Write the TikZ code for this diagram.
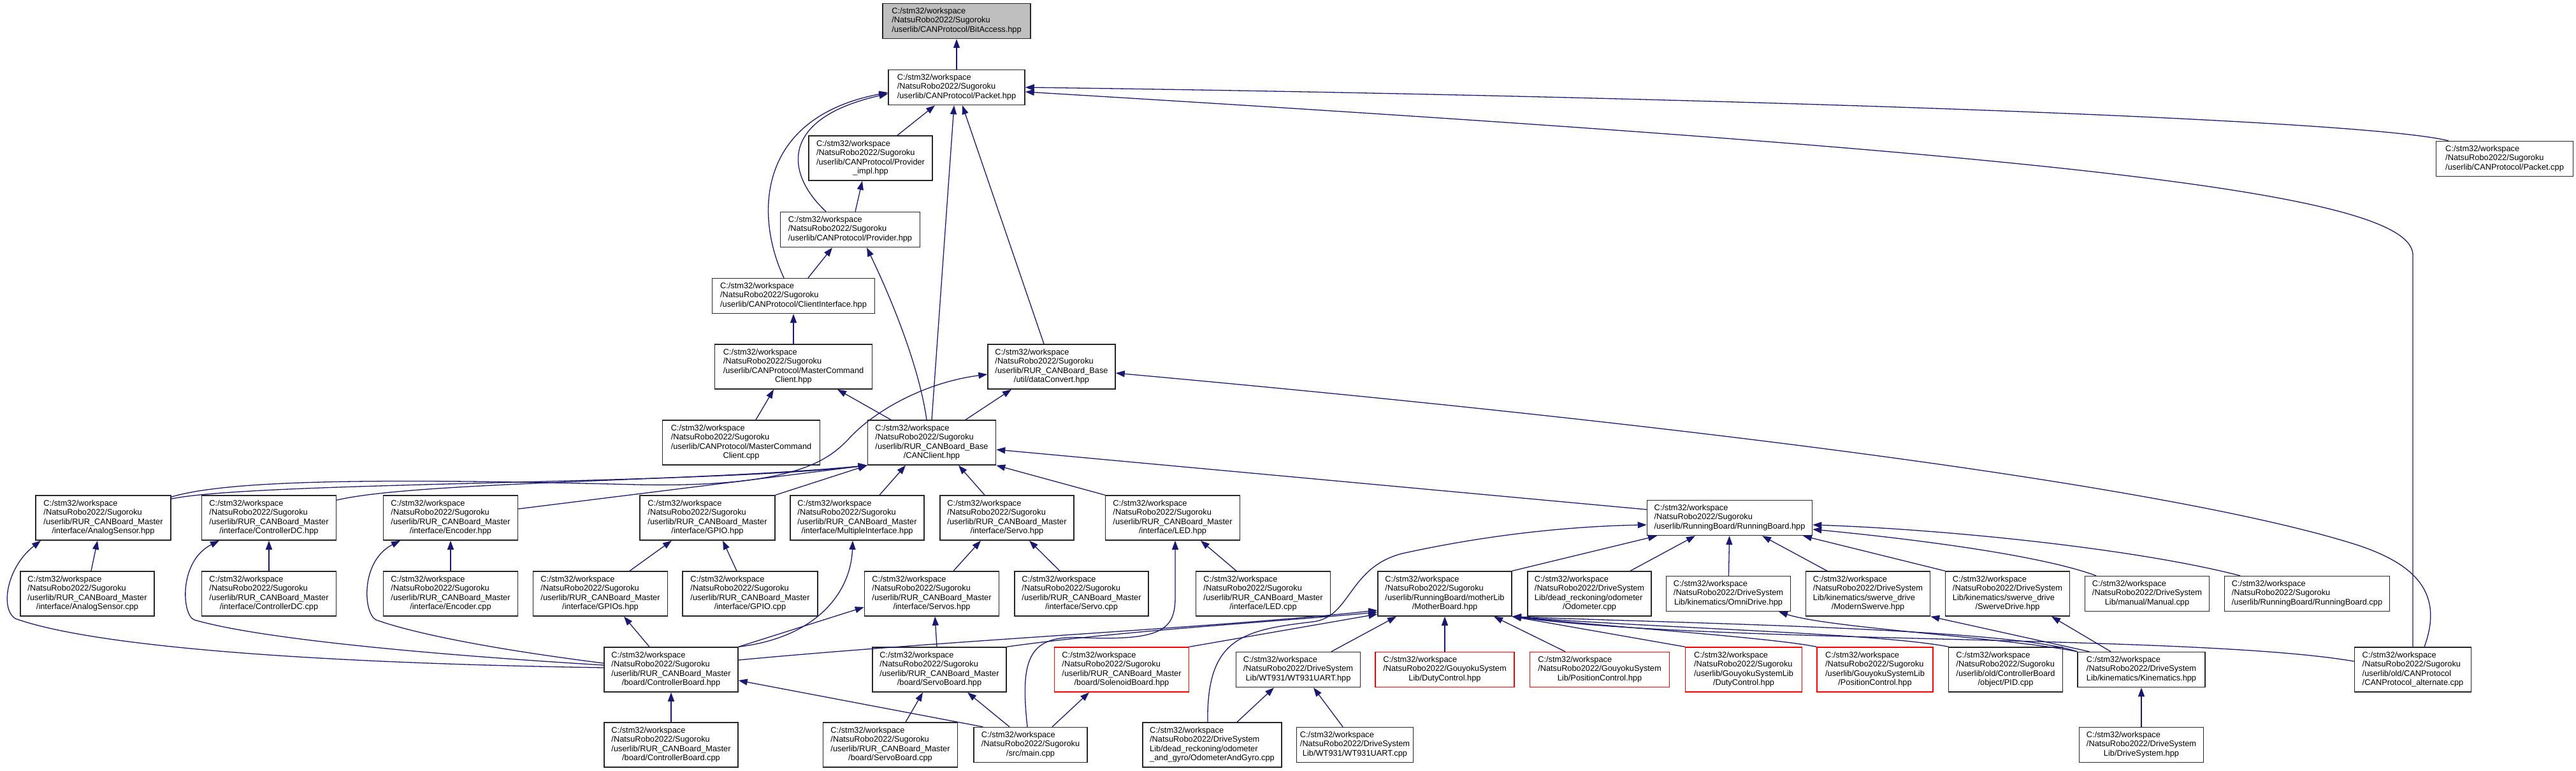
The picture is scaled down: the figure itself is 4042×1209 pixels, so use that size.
\documentclass[tikz,border=0pt]{standalone}
\usepackage{fontspec}
\setmainfont{Liberation Sans}
\usetikzlibrary{arrows.meta}
\definecolor{edgeblue}{HTML}{191970}
% left lines, last line centred
\newcommand{\flines}[2]{\begin{tabular}{@{}l@{}}#1\\\multicolumn{1}{@{}c@{}}{#2}\end{tabular}}
\newcommand{\wsp}{C:/stm32/workspace}
\newcommand{\sugo}{/NatsuRobo2022/Sugoroku}
\newcommand{\drvs}{/NatsuRobo2022/DriveSystem}
\newcommand{\gysl}{/NatsuRobo2022/GouyokuSystem}
\newcommand{\rurm}{/userlib/RUR\_CANBoard\_Master}
\newcommand{\rurb}{/userlib/RUR\_CANBoard\_Base}
\newcommand{\canp}{/userlib/CANProtocol}
\begin{document}
\begin{tikzpicture}[x=1pt, y=-1pt,
  fnode/.style={draw=black!85, line width=1.5pt, fill=white, inner sep=0pt,
                font=\fontsize{12.8}{14.6}\selectfont},
  rnode/.style={fnode, draw=red},
  gnode/.style={fnode, fill=black!25},
  h3/.style={minimum height=55},
  h4/.style={minimum height=70},
  dep/.style={draw=edgeblue, line width=1.3pt, -{Triangle[length=14pt,width=10pt]}},
]
  \fill[white] (0,0) rectangle (4042,1209);
  \useasboundingbox (0,0) rectangle (4042,1209);
  % CANProtocol
  \node[gnode, h3, minimum width=232] (bit) at (1501,33) {\flines{\wsp\\\sugo}{\canp/BitAccess.hpp}};
  \node[fnode, h3, minimum width=214] (pkt) at (1501,137) {\flines{\wsp\\\sugo}{\canp/Packet.hpp}};
  \node[fnode, h4, minimum width=194] (pimpl) at (1366,248) {\flines{\wsp\\\sugo\\\canp/Provider}{\_impl.hpp}};
  \node[fnode, h3, minimum width=219] (prov) at (1334,360) {\flines{\wsp\\\sugo}{\canp/Provider.hpp}};
  \node[fnode, h3, minimum width=255] (cli) at (1245,464) {\flines{\wsp\\\sugo}{\canp/ClientInterface.hpp}};
  \node[fnode, h4, minimum width=247] (mcch) at (1245,575) {\flines{\wsp\\\sugo\\\canp/MasterCommand}{Client.hpp}};
  \node[fnode, h4, minimum width=200] (dconv) at (1650,575) {\flines{\wsp\\\sugo\\\rurb}{/util/dataConvert.hpp}};
  \node[fnode, h4, minimum width=247] (mccc) at (1163,694) {\flines{\wsp\\\sugo\\\canp/MasterCommand}{Client.cpp}};
  \node[fnode, h4, minimum width=201] (canc) at (1462,694) {\flines{\wsp\\\sugo\\\rurb}{/CANClient.hpp}};
  \node[fnode, h3, minimum width=215] (pcpp) at (3930,249) {\flines{\wsp\\\sugo}{\canp/Packet.cpp}};
  % interface headers
  \node[fnode, h4, minimum width=212] (asH) at (162,812) {\flines{\wsp\\\sugo\\\rurm}{/interface/AnalogSensor.hpp}};
  \node[fnode, h4, minimum width=211] (cdcH) at (422,812) {\flines{\wsp\\\sugo\\\rurm}{/interface/ControllerDC.hpp}};
  \node[fnode, h4, minimum width=211] (encH) at (707,812) {\flines{\wsp\\\sugo\\\rurm}{/interface/Encoder.hpp}};
  \node[fnode, h4, minimum width=212] (gpioH) at (1110,812) {\flines{\wsp\\\sugo\\\rurm}{/interface/GPIO.hpp}};
  \node[fnode, h4, minimum width=210] (multi) at (1345,812) {\flines{\wsp\\\sugo\\\rurm}{/interface/MultipleInterface.hpp}};
  \node[fnode, h4, minimum width=210] (servoH) at (1580,812) {\flines{\wsp\\\sugo\\\rurm}{/interface/Servo.hpp}};
  \node[fnode, h4, minimum width=211] (ledH) at (1840,812) {\flines{\wsp\\\sugo\\\rurm}{/interface/LED.hpp}};
  \node[fnode, h3, minimum width=259] (rbH) at (2714,812) {\flines{\wsp\\\sugo}{/userlib/RunningBoard/RunningBoard.hpp}};
  % third row
  \node[fnode, h4, minimum width=210] (asC) at (137,931) {\flines{\wsp\\\sugo\\\rurm}{/interface/AnalogSensor.cpp}};
  \node[fnode, h4, minimum width=211] (cdcC) at (422,931) {\flines{\wsp\\\sugo\\\rurm}{/interface/ControllerDC.cpp}};
  \node[fnode, h4, minimum width=211] (encC) at (707,931) {\flines{\wsp\\\sugo\\\rurm}{/interface/Encoder.cpp}};
  \node[fnode, h4, minimum width=211] (gpios) at (942,931) {\flines{\wsp\\\sugo\\\rurm}{/interface/GPIOs.hpp}};
  \node[fnode, h4, minimum width=212] (gpioC) at (1177,931) {\flines{\wsp\\\sugo\\\rurm}{/interface/GPIO.cpp}};
  \node[fnode, h4, minimum width=211] (servos) at (1462,931) {\flines{\wsp\\\sugo\\\rurm}{/interface/Servos.hpp}};
  \node[fnode, h4, minimum width=210] (servoC) at (1697,931) {\flines{\wsp\\\sugo\\\rurm}{/interface/Servo.cpp}};
  \node[fnode, h4, minimum width=211] (ledC) at (1982,931) {\flines{\wsp\\\sugo\\\rurm}{/interface/LED.cpp}};
  \node[fnode, h4, minimum width=210] (mother) at (2267,931) {\flines{\wsp\\\sugo\\/userlib/RunningBoard/motherLib}{/MotherBoard.hpp}};
  \node[fnode, h4, minimum width=194] (odo) at (2494,931) {\flines{\wsp\\\drvs\\Lib/dead\_reckoning/odometer}{/Odometer.cpp}};
  \node[fnode, h3, minimum width=195] (omni) at (2712,931) {\flines{\wsp\\\drvs}{Lib/kinematics/OmniDrive.hpp}};
  \node[fnode, h4, minimum width=195] (modsw) at (2931,931) {\flines{\wsp\\\drvs\\Lib/kinematics/swerve\_drive}{/ModernSwerve.hpp}};
  \node[fnode, h4, minimum width=195] (swerve) at (3150,931) {\flines{\wsp\\\drvs\\Lib/kinematics/swerve\_drive}{/SwerveDrive.hpp}};
  \node[fnode, h3, minimum width=195] (manual) at (3369,931) {\flines{\wsp\\\drvs}{Lib/manual/Manual.cpp}};
  \node[fnode, h3, minimum width=259] (rbC) at (3620,931) {\flines{\wsp\\\sugo}{/userlib/RunningBoard/RunningBoard.cpp}};
  % boards and controls
  \node[fnode, h4, minimum width=210] (cbH) at (1053,1050) {\flines{\wsp\\\sugo\\\rurm}{/board/ControllerBoard.hpp}};
  \node[fnode, h4, minimum width=210] (sbH) at (1474,1050) {\flines{\wsp\\\sugo\\\rurm}{/board/ServoBoard.hpp}};
  \node[rnode, h4, minimum width=211] (solH) at (1760,1050) {\flines{\wsp\\\sugo\\\rurm}{/board/SolenoidBoard.hpp}};
  \node[fnode, h3, minimum width=195] (wtH) at (2037,1050) {\flines{\wsp\\\drvs}{Lib/WT931/WT931UART.hpp}};
  \node[rnode, h3, minimum width=218] (gdc) at (2267,1050) {\flines{\wsp\\\gysl}{Lib/DutyControl.hpp}};
  \node[rnode, h3, minimum width=219] (gpc) at (2510,1050) {\flines{\wsp\\\gysl}{Lib/PositionControl.hpp}};
  \node[rnode, h4, minimum width=183] (sdc) at (2736,1050) {\flines{\wsp\\\sugo\\/userlib/GouyokuSystemLib}{/DutyControl.hpp}};
  \node[rnode, h4, minimum width=182] (spc) at (2942,1050) {\flines{\wsp\\\sugo\\/userlib/GouyokuSystemLib}{/PositionControl.hpp}};
  \node[fnode, h4, minimum width=179] (pid) at (3147,1050) {\flines{\wsp\\\sugo\\/userlib/old/ControllerBoard}{/object/PID.cpp}};
  \node[fnode, h3, minimum width=200] (kin) at (3360,1050) {\flines{\wsp\\\drvs}{Lib/kinematics/Kinematics.hpp}};
  \node[fnode, h4, minimum width=183] (alt) at (3786,1050) {\flines{\wsp\\\sugo\\/userlib/old/CANProtocol}{/CANProtocol\_alternate.cpp}};
  % bottom row
  \node[fnode, h4, minimum width=210] (cbC) at (1053,1168) {\flines{\wsp\\\sugo\\\rurm}{/board/ControllerBoard.cpp}};
  \node[fnode, h4, minimum width=211] (sbC) at (1397,1168) {\flines{\wsp\\\sugo\\\rurm}{/board/ServoBoard.cpp}};
  \node[fnode, h3, minimum width=178] (main) at (1617,1168) {\flines{\wsp\\\sugo}{/src/main.cpp}};
  \node[fnode, h4, minimum width=218] (odoG) at (1902,1168) {\flines{\wsp\\\drvs\\Lib/dead\_reckoning/odometer}{\_and\_gyro/OdometerAndGyro.cpp}};
  \node[fnode, h3, minimum width=183] (wtC) at (2126,1168) {\flines{\wsp\\\drvs}{Lib/WT931/WT931UART.cpp}};
  \node[fnode, h3, minimum width=195] (drv) at (3360,1168) {\flines{\wsp\\\drvs}{Lib/DriveSystem.hpp}};

  % includes of Packet and its neighbours
  \draw[dep] (pkt) -- (bit);
  \draw[dep] ([xshift=42pt]pimpl.north) -- ([xshift=-34pt]pkt.south);
  \draw[dep] ([xshift=8pt]prov.north) -- ([xshift=-13pt]pimpl.south);
  \draw[dep] ([xshift=-38pt]prov.north) .. controls (1230,270) and (1225,185) .. ([yshift=-10pt]pkt.west);
  \draw[dep] ([xshift=-15pt]cli.north) .. controls (1185,340) and (1185,185) .. ([yshift=-8pt]pkt.west);
  \draw[dep] ([xshift=23pt]cli.north) -- ([xshift=-28pt]prov.south);
  \draw[dep] (mcch) -- (cli);
  \draw[dep] ([xshift=23pt]mccc.north) -- ([xshift=-31pt]mcch.south);
  \draw[dep] ([xshift=-64pt]canc.north) -- ([xshift=69pt]mcch.south);
  \draw[dep] ([xshift=-8pt]canc.north) .. controls (1440,560) and (1385,440) .. ([xshift=26pt]prov.south);
  \draw[dep] (canc.north) -- ([xshift=-4pt]pkt.south);
  \draw[dep] ([xshift=-12pt]dconv.north) -- ([xshift=9pt]pkt.south);
  \draw[dep] ([xshift=53pt]canc.north) -- ([xshift=-63pt]dconv.south);
  \draw[dep] ([xshift=-88pt]pcpp.north) .. controls (3700,185) and (2600,150) .. (pkt.east);
  \draw[dep] (alt.north) -- (3786,400) .. controls (3786,300) and (3200,240) .. ([yshift=-7pt]pkt.east);
  \draw[dep] ([xshift=18pt]alt.north) .. controls (3835,930) and (3790,885) .. (3700,855)
    .. controls (3450,775) and (2800,680) .. ([yshift=-10pt]dconv.east);
  \draw[dep] ([yshift=-3pt]asH.north east) .. controls (360,752) and (600,750) .. (1000,760)
    .. controls (1250,765) and (1300,720) .. (1330,690)
    .. controls (1370,645) and (1450,600) .. ([yshift=-12pt]dconv.west);

  % interface headers to CANClient
  \draw[dep] ([yshift=-6pt]asH.north east) .. controls (400,755) and (1100,760) .. (canc.south west);
  \draw[dep] ([yshift=-8pt]cdcH.north east) .. controls (650,755) and (1100,755) .. (canc.south west);
  \draw[dep] ([yshift=14pt]encH.east) -- (canc.south west);
  \draw[dep] (gpioH.north east) -- (canc.south west);
  \draw[dep] ([xshift=35pt]multi.north) -- ([xshift=-41pt]canc.south);
  \draw[dep] ([xshift=-35pt]servoH.north) -- ([xshift=42pt]canc.south);
  \draw[dep] (ledH.north west) -- (canc.south east);
  \draw[dep] ([yshift=13pt]rbH.west) -- ([yshift=-11pt]canc.east);

  % sources and sub-headers
  \draw[dep] ([xshift=6pt]asC.north) -- ([xshift=-9pt]asH.south);
  \draw[dep] (cdcC) -- (cdcH);
  \draw[dep] (encC) -- (encH);
  \draw[dep] ([xshift=46pt]gpios.north) -- ([xshift=-56pt]gpioH.south);
  \draw[dep] ([xshift=-21pt]gpioC.north) -- ([xshift=24pt]gpioH.south);
  \draw[dep] ([xshift=34pt]servos.north) -- ([xshift=-41pt]servoH.south);
  \draw[dep] ([xshift=-34pt]servoC.north) -- ([xshift=35pt]servoH.south);
  \draw[dep] ([xshift=-42pt]ledC.north) -- ([xshift=44pt]ledH.south);

  % ControllerBoard
  \draw[dep] ([yshift=3pt]cbH.west) .. controls (500,1040) and (150,1015) .. (24,970)
    .. controls (0,955) and (10,890) .. ([xshift=-98pt]asH.south);
  \draw[dep] ([yshift=7pt]cbH.west) .. controls (650,1025) and (400,1000) .. (305,972)
    .. controls (285,965) and (280,880) .. ([xshift=-78pt]cdcH.south);
  \draw[dep] ([yshift=10pt]cbH.west) .. controls (750,1015) and (640,990) .. (590,972)
    .. controls (570,962) and (565,880) .. ([xshift=-79pt]encH.south);
  \draw[dep] ([xshift=-34pt]cbH.north) -- ([xshift=37pt]gpios.south);
  \draw[dep] (cbH.north east) .. controls (1280,1000) and (1335,930) .. ([xshift=-7pt]multi.south);
  \draw[dep] (cbH.north east) -- ([yshift=-21pt]servos.west);
  \draw[dep] ([yshift=15pt]cbH.east) .. controls (1500,1003) and (1900,985) .. ([yshift=-26pt]mother.west);
  \draw[dep] (cbC) -- (cbH);

  % ServoBoard, SolenoidBoard, main
  \draw[dep] ([xshift=-4pt]sbH.north) -- ([xshift=5pt]servos.south);
  \draw[dep] (sbH.north east) .. controls (1750,990) and (2000,975) .. ([yshift=-29pt]mother.west);
  \draw[dep] (solH.north east) -- ([yshift=-32pt]mother.west);
  \draw[dep] ([xshift=24pt]sbC.north) -- ([xshift=-26pt]sbH.south);
  \draw[dep] ([xshift=15pt]main.north west) -- ([yshift=-17pt]cbH.east);
  \draw[dep] ([xshift=-33pt]main.north) -- ([xshift=44pt]sbH.south);
  \draw[dep] ([xshift=34pt]main.north) -- ([xshift=-51pt]solH.south);
  \draw[dep] ([xshift=-5pt]main.north) .. controls (1600,1030) and (1615,995) .. (1700,1000)
    .. controls (1830,1005) and (1845,985) .. (1844,930) -- ([xshift=4pt]ledH.south);

  % WT931 and odometry
  \draw[dep] ([xshift=39pt]odoG.north) -- ([xshift=-38pt]wtH.south);
  \draw[dep] ([xshift=-19pt]wtC.north) -- ([xshift=24pt]wtH.south);
  \draw[dep] ([xshift=-7pt]odoG.north) .. controls (1893,1000) and (1950,988) .. (2060,975)
    .. controls (2120,968) and (2115,890) .. (2200,868)
    .. controls (2350,835) and (2480,825) .. ([yshift=-11pt]rbH.west);
  \draw[dep] ([xshift=52pt]wtH.north) -- ([xshift=-76pt]mother.south);

  % MotherBoard
  \draw[dep] (gdc) -- (mother);
  \draw[dep] ([xshift=-54pt]gpc.north) -- ([xshift=77pt]mother.south);
  \draw[dep] (sdc.north west) -- (mother.south east);
  \draw[dep] (spc.north west) .. controls (2780,1000) and (2550,985) .. (mother.south east);
  \draw[dep] ([xshift=1pt]pid.north west) .. controls (2950,993) and (2600,985) .. (mother.south east);
  \draw[dep] (kin.north west) .. controls (3150,985) and (2650,978) .. (mother.south east);
  \draw[dep] ([yshift=13pt]alt.west) .. controls (3450,995) and (2700,1010) .. (mother.south east);

  % kinematics
  \draw[dep] (kin.north west) .. controls (3150,1000) and (2870,985) .. ([xshift=79pt]omni.south);
  \draw[dep] ([xshift=19pt]kin.north west) -- (modsw.south east);
  \draw[dep] ([xshift=-48pt]kin.north) -- ([xshift=69pt]swerve.south);
  \draw[dep] (drv) -- (kin);

  % RunningBoard
  \draw[dep] (mother.north east) -- ([xshift=-114pt]rbH.south);
  \draw[dep] ([xshift=64pt]odo.north) -- ([xshift=-54pt]rbH.south);
  \draw[dep] (omni) -- (rbH);
  \draw[dep] ([xshift=-64pt]modsw.north) -- ([xshift=51pt]rbH.south);
  \draw[dep] (swerve.north west) -- ([xshift=115pt]rbH.south);
  \draw[dep] ([xshift=-80pt]manual.north) .. controls (3200,870) and (3000,845) .. ([yshift=-18pt]rbH.east);
  \draw[dep] ([xshift=-105pt]rbC.north) .. controls (3350,860) and (3050,830) .. ([yshift=-11pt]rbH.east);
\end{tikzpicture}
\end{document}
